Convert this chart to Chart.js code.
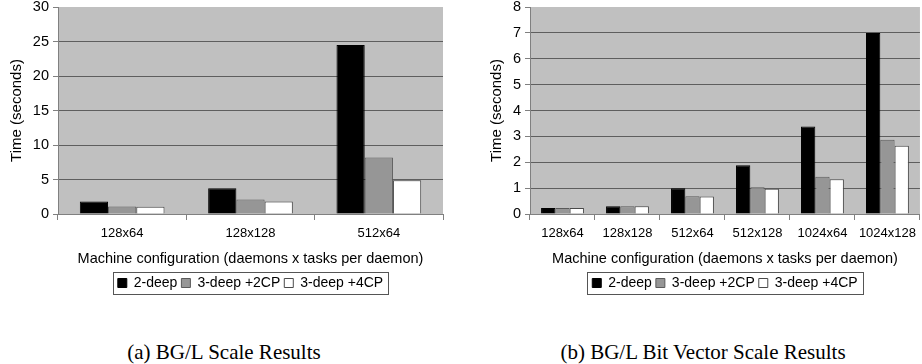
<!DOCTYPE html>
<html><head><meta charset="utf-8">
<script src="https://cdn.jsdelivr.net/npm/chart.js@4"></script>
<style>
html,body{margin:0;padding:0;background:#fff;width:922px;height:364px;overflow:hidden;}
canvas{position:absolute;top:0;}
#ca{left:0;} #cb{left:460px;}
.cap{position:absolute;top:340px;font-family:"Liberation Serif","Times New Roman",serif;font-size:21px;color:#000;white-space:nowrap;transform:translateX(-50%);line-height:24px;}
</style></head><body>
<canvas id="ca" width="460" height="300"></canvas>
<canvas id="cb" width="462" height="300"></canvas>
<div class="cap" style="left:224px;">(a) BG/L Scale Results</div>
<div class="cap" style="left:703px;">(b) BG/L Bit Vector Scale Results</div>
<script>
// ---- data ----
const seriesNames = ['2-deep', '3-deep +2CP', '3-deep +4CP'];
const categoriesA = ['128x64', '128x128', '512x64'];
const twoDeepA = [1.8, 3.75, 24.5];
const threeDeep2CPA = [1.1, 2.1, 8.2];
const threeDeep4CPA = [1.05, 1.8, 4.9];
const yTicksA = [0, 5, 10, 15, 20, 25, 30];

const categoriesB = ['128x64', '128x128', '512x64', '512x128', '1024x64', '1024x128'];
const twoDeepB = [0.23, 0.3, 1.0, 1.88, 3.38, 7.0];
const threeDeep2CPB = [0.23, 0.3, 0.69, 1.03, 1.44, 2.87];
const threeDeep4CPB = [0.23, 0.3, 0.68, 0.98, 1.34, 2.64];
const yTicksB = [0, 1, 2, 3, 4, 5, 6, 7, 8];

const xTitle = 'Machine configuration (daemons x tasks per daemon)';
const yTitle = 'Time (seconds)';

Chart.defaults.font.family = '"Liberation Sans", Arial, sans-serif';
Chart.defaults.color = '#000';

const plotBg = {
  id: 'plotBg',
  beforeDraw(chart) {
    const {ctx, chartArea: a} = chart;
    ctx.save();
    ctx.fillStyle = '#c0c0c0';
    ctx.fillRect(a.left, a.top, a.right - a.left, a.bottom - a.top);
    ctx.restore();
  }
};
const legendBorder = {
  id: 'legendBorder',
  afterDraw(chart) {
    const hb = chart.legend && chart.legend.legendHitBoxes;
    if (!hb || !hb.length) return;
    const ctx = chart.ctx;
    const l = Math.round(hb[0].left - 5);
    const last = hb[hb.length - 1];
    const r = Math.round(last.left + last.width + 5);
    const cy = Math.round(hb[0].top + hb[0].height / 2);
    ctx.save();
    ctx.strokeStyle = '#555';
    ctx.lineWidth = 1;
    ctx.strokeRect(l + 0.5, cy - 11 + 0.5, r - l, 22);
    ctx.restore();
  }
};

function makeChart(id, cats, d1, d2, d3, yTicks, yWidth, titlePad, padRight) {
  const yMax = yTicks[yTicks.length - 1];
  const yStep = yTicks[1] - yTicks[0];
  return new Chart(document.getElementById(id), {
    type: 'bar',
    data: {
      labels: cats,
      datasets: [
        {label: seriesNames[0], data: d1, backgroundColor: '#000000', borderColor: '#000000', borderWidth: 1},
        {label: seriesNames[1], data: d2, backgroundColor: '#969696', borderColor: '#5a5a5a', borderWidth: 1},
        {label: seriesNames[2], data: d3, backgroundColor: '#ffffff', borderColor: '#4a4a4a', borderWidth: 1}
      ].map(d => Object.assign(d, {categoryPercentage: 0.66, barPercentage: 1.0, borderSkipped: 'bottom'}))
    },
    options: {
      responsive: false,
      animation: false,
      devicePixelRatio: 1,
      layout: {padding: {top: 0, right: padRight, bottom: 0, left: 0}},
      plugins: {
        tooltip: {enabled: false},
        legend: {
          position: 'bottom',
          fullSize: false,
          labels: {boxWidth: 9, boxHeight: 9, padding: 4, font: {size: 14}, color: '#000'}
        }
      },
      scales: {
        x: {
          offset: true,
          grid: {display: true, drawOnChartArea: false, drawTicks: true, tickLength: 6, color: '#808080', offset: true},
          border: {display: true, color: '#808080', width: 1},
          ticks: {font: {size: 13}, color: '#000', padding: 6, maxRotation: 0, autoSkip: false},
          title: {display: true, text: xTitle, font: {size: 14.5}, color: '#000', padding: {top: 4, bottom: 4.5}},
          afterFit(s) { s.height = 58; }
        },
        y: {
          min: 0, max: yMax,
          ticks: {stepSize: yStep, font: {size: 14.5}, color: '#000', padding: 4},
          grid: {
            color: c => (c.tick && c.tick.value === yMax) ? 'rgba(0,0,0,0)' : '#5e5e5e',
            tickColor: '#808080', tickLength: 5, drawTicks: true
          },
          border: {display: true, color: '#808080', width: 1},
          title: {display: true, text: yTitle, font: {size: 15}, color: '#000', padding: {top: titlePad, bottom: 0}},
          afterFit(s) { s.width = yWidth; s.paddingTop = 7; }
        }
      }
    },
    plugins: [plotBg, legendBorder]
  });
}

makeChart('ca', categoriesA, twoDeepA, threeDeep2CPA, threeDeep4CPA, yTicksA, 58, 8, 17);
makeChart('cb', categoriesB, twoDeepB, threeDeep2CPB, threeDeep4CPB, yTicksB, 70, 28, 0);
</script>
</body></html>
